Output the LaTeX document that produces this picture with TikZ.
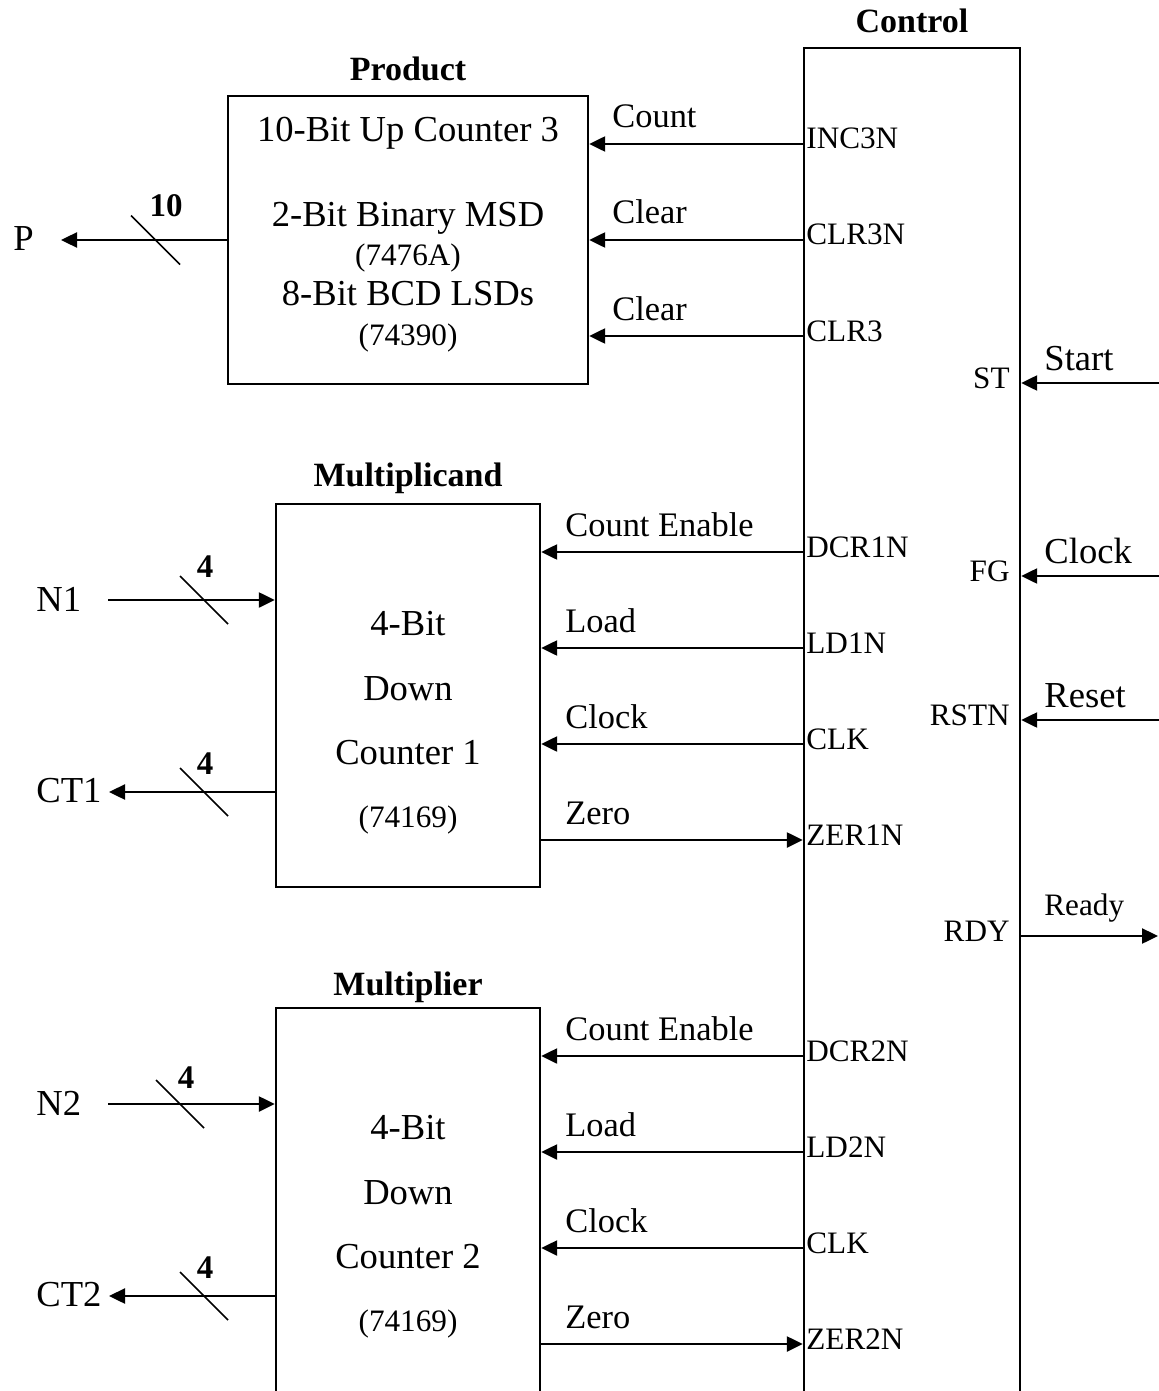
\documentclass[tikz,border=0pt]{standalone}
\usepackage{fontspec}
\setmainfont{Liberation Serif}
\usetikzlibrary{arrows.meta, positioning}

\begin{document}
\begin{tikzpicture}[
    x=0.5pt, y=-0.5pt, % one unit = one pixel of the sheet, y running down
    every node/.style={inner sep=0pt},
    unit box/.style={draw, line width=1.2pt},
    title label/.style={font=\fontsize{17}{20}\selectfont\bfseries, anchor=base},
    box text/.style={font=\fontsize{18.3}{21}\selectfont, anchor=base},
    chip text/.style={font=\fontsize{15.6}{18}\selectfont, anchor=base},
    sig label/.style={font=\fontsize{17.2}{20}\selectfont, anchor=base west},
    io label/.style={font=\fontsize{18.3}{21}\selectfont},
    pin label/.style={font=\fontsize{15.6}{18}\selectfont},
    bus label/.style={font=\fontsize{16.5}{19}\selectfont\bfseries, anchor=base},
    wire/.style={line width=1.2pt},
    slash/.style={line width=0.8pt},
    sig/.style={wire, -{Triangle[length=8pt, width=7.5pt]}}
]

    \useasboundingbox (0,0) rectangle (1159,1391);
    \clip (0,0) rectangle (1159,1391);

    % --- 1. CONTROL UNIT ---
    \node[unit box, minimum width=108pt, minimum height=730pt] (ctrl) at (912,778) {};
    \node[title label] (ctrl-t) at (912,33) {Control};

    % external signals on the right
    \foreach \y/\pin/\lbl [count=\i] in {383/ST/Start, 576/FG/Clock, 720/RSTN/Reset} {
        \coordinate (in\i) at (1165,\y);
        \draw[sig] (in\i) -- (ctrl.east |- in\i);
        \node[pin label, anchor=base east] (rp\i) at (1010,\y+5) {\pin};
        \node[io label, anchor=base west] (rl\i) at (1044,\y-13) {\lbl};
    }
    \coordinate (rdy) at (1158,936);
    \draw[sig] (ctrl.east |- rdy) -- (rdy);
    \node[pin label, anchor=base east] (rp4) at (1010,941) {RDY};
    \node[pin label, anchor=base west] (rl4) at (1044,915) {Ready};

    % --- 2. PRODUCT COUNTER ---
    \node[unit box, minimum width=180pt, minimum height=144pt] (prod) at (408,240) {};
    \node[title label] (prod-t) at (408,81) {Product};
    \node[box text] (prod-a) at (408,142) {10-Bit Up Counter 3};
    \node[box text] (prod-b) at (408,227) {2-Bit Binary MSD};
    \node[chip text] (prod-c) at (408,265) {(7476A)};
    \node[box text] (prod-d) at (408,306) {8-Bit BCD LSDs};
    \node[chip text] (prod-e) at (408,345) {(74390)};

    \foreach \y/\lbl/\pin [count=\i] in {144/Count/INC3N, 240/Clear/CLR3N, 336/Clear/CLR3} {
        \draw[sig] (ctrl.west |- 0,\y) -- (prod.east |- 0,\y);
        \node[sig label] (ps\i) at (612,\y-16) {\lbl};
        \node[pin label, anchor=base west] (pp\i) at (806,\y+5) {\pin};
    }

    % product out
    \node[io label, anchor=base west] (p) at (13,250) {P};
    \coordinate (p-e) at (61,240);
    \draw[sig] (prod.west) -- (p-e);
    \draw[slash] (155.5,240) ++(-24.5,-24.5) -- ++(49,49);
    \node[bus label] (p-w) at (166,217) {10};

    % --- 3. DOWN COUNTERS ---
    \foreach \k/\dy/\ttl/\tb/\bh/\sx/\lx/\lb in {1/0/Multiplicand/486/383/204/205/577,
                                                2/504/Multiplier/995/420/180/186/1088} {
        \node[unit box, minimum width=132pt, minimum height=\bh*0.5pt] (cnt\k) at (408,504+\dy+\bh/2) {};
        \node[title label] (cnt\k-t) at (408,\tb) {\ttl};
        \node[box text] (cnt\k-a) at (408,635+\dy) {4-Bit};
        \node[box text] (cnt\k-b) at (408,700+\dy) {Down};
        \node[box text] (cnt\k-c) at (408,764+\dy) {Counter \k};
        \node[chip text] (cnt\k-d) at (408,827+\dy) {(74169)};

        % lines from control
        \foreach \y/\lbl/\pin [count=\j] in {552/Count Enable/DCR\k N, 648/Load/LD\k N, 744/Clock/CLK} {
            \pgfmathsetmacro\yy{\y+\dy}
            \draw[sig] (ctrl.west |- 0,\yy) -- (cnt\k.east |- 0,\yy);
            \node[sig label] (cnt\k-s\j) at (565,\yy-16) {\lbl};
            \node[pin label, anchor=base west] (cnt\k-p\j) at (806,\yy+5) {\pin};
        }
        % zero flag back to control
        \pgfmathsetmacro\yz{840+\dy}
        \draw[sig] (cnt\k.east |- 0,\yz) -- (ctrl.west |- 0,\yz);
        \node[sig label] (cnt\k-s4) at (565,\yz-16) {Zero};
        \node[pin label, anchor=base west] (cnt\k-p4) at (806,\yz+5) {ZER\k N};

        % data in
        \node[io label, anchor=base west] (n\k) at (36,611+\dy) {N\k};
        \coordinate (n\k-s) at (108,600+\dy);
        \draw[sig] (n\k-s) -- (cnt\k.west |- n\k-s);
        \draw[slash] (\sx,600+\dy) ++(-24,-24) -- ++(48,48);
        \node[bus label] (n\k-w) at (\lx,\lb) {4};

        % count out
        \node[io label, anchor=base west] (ct\k) at (36,802+\dy) {CT\k};
        \coordinate (ct\k-e) at (109,792+\dy);
        \draw[sig] (cnt\k.west |- ct\k-e) -- (ct\k-e);
        \draw[slash] (204,792+\dy) ++(-24,-24) -- ++(48,48);
        \node[bus label] (ct\k-w) at (205,774+\dy) {4};
    }

\end{tikzpicture}
\end{document}
